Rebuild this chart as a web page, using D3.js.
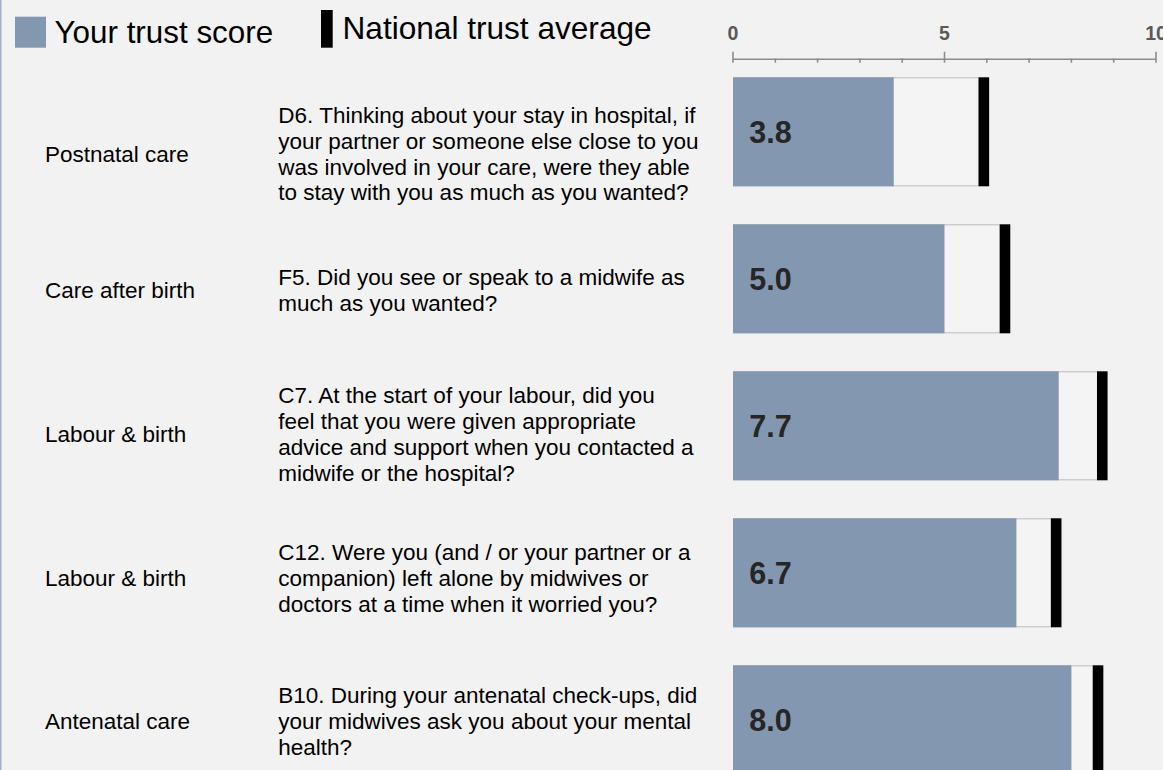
<!DOCTYPE html>
<html>
<head>
<meta charset="utf-8">
<script src="https://cdn.jsdelivr.net/npm/d3@7"></script>
<style>
  html, body { margin: 0; padding: 0; background: #f2f2f2; }
  svg { display: block; }
  text { font-family: "Liberation Sans", Arial, sans-serif; }
</style>
</head>
<body>
<svg id="chart" width="1163" height="770"></svg>
<script>
// ---- data ----
const sections = ["Postnatal care", "Care after birth", "Labour & birth", "Labour & birth", "Antenatal care"];
const questions = [
  ["D6. Thinking about your stay in hospital, if", "your partner or someone else close to you", "was involved in your care, were they able", "to stay with you as much as you wanted?"],
  ["F5. Did you see or speak to a midwife as", "much as you wanted?"],
  ["C7. At the start of your labour, did you", "feel that you were given appropriate", "advice and support when you contacted a", "midwife or the hospital?"],
  ["C12. Were you (and / or your partner or a", "companion) left alone by midwives or", "doctors at a time when it worried you?"],
  ["B10. During your antenatal check-ups, did", "your midwives ask you about your mental", "health?"]
];
const trustScores = [3.8, 5.0, 7.7, 6.7, 8.0];
const nationalAverages = [5.93, 6.43, 8.73, 7.64, 8.63];
const tickValues = [0, 5, 10];
const minorTickValues = [0, 1, 2, 3, 4, 5, 6, 7, 8, 9, 10];
const legendLabels = ["Your trust score", "National trust average"];

// ---- layout ----
const W = 1163, H = 770;
const blue = "#8497b0";
const bg = "#f2f2f2";
const svg = d3.select("#chart");
svg.append("rect").attr("width", W).attr("height", H).attr("fill", bg);
svg.append("line").attr("x1", 0.75).attr("x2", 0.75).attr("y1", 0).attr("y2", H)
  .attr("stroke", "#9fb0c9").attr("stroke-width", 1.5);

const idx = d3.range(trustScores.length);
const x = d3.scaleLinear().domain([0, 10]).range([733, 1156]);
const y = d3.scaleBand().domain(idx).range([77.3, 774.3]).paddingInner(38 / 147).paddingOuter(0);

// text table rows
const tableTop = 89;
const rowHeights = [129, 144, 144, 143, 144];
const rowTops = rowHeights.map((h, i) => tableTop + d3.sum(rowHeights.slice(0, i)));
const rowCenter = i => rowTops[i] + rowHeights[i] / 2;
const lineH = 25.9, capHalf = 8.1;

// ---- legend ----
svg.append("rect").attr("x", 15).attr("y", 16.7).attr("width", 31).attr("height", 31).attr("fill", blue);
svg.append("text").attr("x", 54.5).attr("y", 42.7).attr("font-size", 31.4).attr("fill", "#000").text(legendLabels[0]);
svg.append("rect").attr("x", 321).attr("y", 10).attr("width", 11.7).attr("height", 37.7).attr("fill", "#000");
svg.append("text").attr("x", 342.5).attr("y", 39.4).attr("font-size", 31.6).attr("fill", "#000").text(legendLabels[1]);

// ---- axis ----
const axisY = 59.3;
const ax = svg.append("g");
ax.append("line").attr("x1", x(0)).attr("x2", x(10)).attr("y1", axisY).attr("y2", axisY)
  .attr("stroke", "#8c8c8c").attr("stroke-width", 1.6);
ax.selectAll("line.minor").data(minorTickValues).join("line").attr("class", "minor")
  .attr("x1", d => x(d)).attr("x2", d => x(d))
  .attr("y1", d => tickValues.includes(d) ? 51.7 : 58.5).attr("y2", 62.7)
  .attr("stroke", "#8c8c8c").attr("stroke-width", 1.6);
ax.selectAll("text.tick").data(tickValues).join("text").attr("class", "tick")
  .attr("x", d => x(d)).attr("y", 40).attr("text-anchor", "middle")
  .attr("font-size", 19.5).attr("font-weight", "bold").attr("fill", "#595959")
  .text(d => d);

// ---- bars ----
const rows = svg.append("g").selectAll("g").data(idx).join("g");
// national average outline box
rows.append("rect")
  .attr("x", x(0) + 0.5).attr("y", i => y(i) + 0.5)
  .attr("width", i => x(nationalAverages[i]) - 5.3 - x(0))
  .attr("height", y.bandwidth() - 1)
  .attr("fill", "#f4f4f4").attr("stroke", "#bdbdbd").attr("stroke-width", 1);
// trust score bar
rows.append("rect")
  .attr("x", x(0)).attr("y", i => y(i))
  .attr("width", i => x(trustScores[i]) - x(0))
  .attr("height", y.bandwidth())
  .attr("fill", blue);
// national average marker
rows.append("rect")
  .attr("x", i => x(nationalAverages[i]) - 5.3).attr("y", i => y(i))
  .attr("width", 10.6).attr("height", y.bandwidth())
  .attr("fill", "#000");
// value labels
rows.append("text")
  .attr("x", 749.3).attr("y", i => y(i) + y.bandwidth() / 2 + 11.3)
  .attr("font-size", 30.5).attr("font-weight", "bold").attr("fill", "#262626")
  .text(i => trustScores[i].toFixed(1));

// ---- text columns ----
const txt = svg.append("g").selectAll("g").data(idx).join("g");
txt.append("text")
  .attr("x", 45).attr("y", i => rowCenter(i) + capHalf)
  .attr("font-size", 22.5).attr("fill", "#000")
  .text(i => sections[i]);
txt.append("text")
  .attr("font-size", 22.5).attr("fill", "#000")
  .each(function (i) {
    const lines = questions[i];
    const first = rowCenter(i) - (lines.length - 1) * lineH / 2 + capHalf;
    d3.select(this).selectAll("tspan").data(lines).join("tspan")
      .attr("x", 278.3).attr("y", (d, k) => first + k * lineH).text(d => d);
  });
</script>
</body>
</html>
